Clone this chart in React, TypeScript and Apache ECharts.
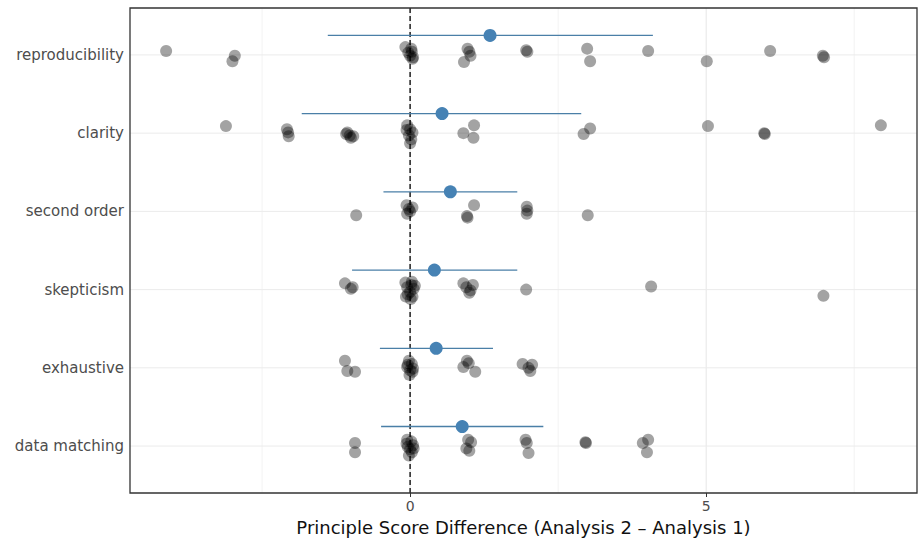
import React, { useEffect, useRef } from "react";
import * as echarts from "echarts";

// Categories, bottom (level 1) to top (level 6)
const categories = ["data matching", "exhaustive", "skepticism", "second order", "clarity", "reproducibility"];
const xTickValues = [0, 5];
const xMajorGrid = [0, 5];
const xMinorGrid = [-2.5, 2.5, 7.5];
const xName = "Principle Score Difference (Analysis 2 \u2013 Analysis 1)";

// Individual score differences (x) and their vertical jitter (in category units)
const dataMatchingX = [-0.93, -0.93, -0.05, 0.02, 0.05, -0.04, 0.0, 0.03, -0.02, 0.06, -0.06, 0.98, 1.03, 0.95, 1.0, 1.95, 1.97, 2.0, 2.96, 2.97, 3.93, 4.02, 4.0];
const dataMatchingJ = [0.04, -0.08, 0.08, 0.06, 0.01, -0.01, -0.04, -0.08, -0.12, -0.03, 0.03, 0.08, 0.05, -0.03, -0.06, 0.08, 0.04, -0.09, 0.05, 0.04, 0.04, 0.08, -0.08];

const exhaustiveX = [-1.1, -1.06, -0.93, -0.02, 0.03, -0.05, 0.0, 0.04, -0.01, 0.05, -0.04, 0.96, 0.99, 0.9, 1.1, 1.9, 2.06, 2.03, 2.0];
const exhaustiveJ = [0.09, -0.04, -0.05, 0.09, 0.05, 0.01, -0.03, -0.05, -0.09, -0.01, 0.04, 0.09, 0.06, 0.01, -0.05, 0.05, 0.04, -0.04, 0.0];

const skepticismX = [-1.1, -0.97, -1.0, -0.08, 0.03, -0.05, 0.06, 0.0, -0.04, 0.04, 0.01, 0.08, -0.07, 0.02, 0.9, 0.95, 1.02, 1.0, 1.06, 1.96, 4.07, 6.98];
const skepticismJ = [0.08, 0.03, 0.01, 0.09, 0.1, 0.03, 0.01, -0.03, -0.06, -0.09, -0.12, 0.05, -0.09, 0.06, 0.08, 0.03, -0.01, -0.04, 0.06, 0.0, 0.04, -0.08];

const secondOrderX = [-0.91, -0.06, -0.02, -0.05, 0.0, 0.04, 0.96, 0.97, 1.08, 1.97, 1.98, 1.97, 3.0];
const secondOrderJ = [-0.05, 0.08, 0.03, -0.03, 0.0, 0.05, -0.06, -0.08, 0.08, 0.06, 0.01, -0.03, -0.05];

const clarityX = [-3.11, -2.08, -2.06, -2.05, -1.06, -1.02, -0.96, -1.0, -1.08, -0.05, 0.0, 0.04, -0.02, 0.02, 0.0, -0.06, 0.9, 1.08, 1.07, 2.93, 3.04, 5.03, 5.98, 5.99, 7.95];
const clarityJ = [0.09, 0.05, 0.01, -0.04, 0.01, -0.03, -0.04, -0.06, -0.01, 0.1, 0.05, 0.01, -0.03, -0.08, -0.13, 0.04, 0.0, 0.1, -0.06, -0.01, 0.06, 0.09, 0.0, -0.01, 0.1];

const reproducibilityX = [-4.12, -2.96, -3.0, -0.08, 0.02, 0.03, 0.0, 0.04, -0.03, 0.05, 0.97, 1.0, 1.02, 0.91, 1.96, 1.98, 2.99, 3.04, 4.02, 5.01, 6.08, 6.97, 6.99];
const reproducibilityJ = [0.05, -0.01, -0.08, 0.1, 0.08, 0.04, -0.01, -0.05, 0.03, -0.03, 0.08, 0.04, -0.01, -0.09, 0.06, 0.04, 0.08, -0.08, 0.05, -0.08, 0.05, -0.01, -0.03];

// Means and intervals, bottom to top
const meanX = [0.88, 0.44, 0.41, 0.68, 0.54, 1.35];
const ciLow = [-0.49, -0.51, -0.98, -0.45, -1.83, -1.39];
const ciHigh = [2.25, 1.4, 1.81, 1.81, 2.89, 4.1];
const meanOffset = 0.25;

const X_MIN = -4.73;
const X_MAX = 8.56;
const Y_MIN = 0.4;
const Y_MAX = 6.6;

const FONT = "DejaVu Sans";

export default function App() {
  const ref = useRef<HTMLDivElement>(null);

  useEffect(() => {
    if (!ref.current) return;
    const chart = echarts.init(ref.current, undefined, { renderer: "svg" });

    const rowsX = [dataMatchingX, exhaustiveX, skepticismX, secondOrderX, clarityX, reproducibilityX];
    const rowsJ = [dataMatchingJ, exhaustiveJ, skepticismJ, secondOrderJ, clarityJ, reproducibilityJ];
    const points: number[][] = [];
    rowsX.forEach((xs, i) => {
      xs.forEach((x, k) => points.push([x, i + 1 + rowsJ[i][k]]));
    });

    const vGrid = [
      ...xMajorGrid.map((v) => [v, 0, 1]),
      ...xMinorGrid.map((v) => [v, 0, 0]),
    ];
    const hGrid = categories.map((_, i) => [0, i + 1]);
    const means = meanX.map((m, i) => [m, i + 1 + meanOffset, ciLow[i], ciHigh[i]]);

    const option: any = {
      animation: false,
      backgroundColor: "#ffffff",
      grid: {
        left: 130,
        right: 4,
        top: 8,
        bottom: 53,
        show: true,
        borderColor: "#333333",
        borderWidth: 1.3,
        backgroundColor: "transparent",
        z: 10,
      },
      xAxis: {
        type: "value",
        min: X_MIN,
        max: X_MAX,
        name: xName,
        nameLocation: "middle",
        nameGap: 25,
        nameTextStyle: { fontSize: 18, color: "#111111", fontFamily: FONT },
        axisLine: { show: false },
        axisTick: { show: true, customValues: xTickValues, length: 4, lineStyle: { color: "#333333" } },
        axisLabel: {
          customValues: xTickValues,
          fontSize: 14,
          color: "#4D4D4D",
          margin: 6,
          fontFamily: FONT,
        },
        splitLine: { show: false },
      },
      yAxis: {
        type: "value",
        min: Y_MIN,
        max: Y_MAX,
        axisLine: { show: false },
        axisTick: { show: true, customValues: [1, 2, 3, 4, 5, 6], length: 4, lineStyle: { color: "#333333" } },
        axisLabel: {
          customValues: [1, 2, 3, 4, 5, 6],
          formatter: (v: number) => categories[Math.round(v) - 1] ?? "",
          fontSize: 15,
          color: "#4D4D4D",
          margin: 6,
          fontFamily: FONT,
        },
        splitLine: { show: false },
      },
      series: [
        {
          type: "custom",
          z: 1,
          silent: true,
          data: vGrid,
          encode: { x: 0, y: 1 },
          renderItem: (params: any, api: any) => {
            const x = api.value(0);
            const major = api.value(2) === 1;
            const p1 = api.coord([x, Y_MIN]);
            const p2 = api.coord([x, Y_MAX]);
            return {
              type: "line",
              shape: { x1: p1[0], y1: p1[1], x2: p2[0], y2: p2[1] },
              style: { stroke: major ? "#E6E6E6" : "#EFEFEF", lineWidth: major ? 1 : 0.8 },
            };
          },
        },
        {
          type: "custom",
          z: 1,
          silent: true,
          data: hGrid,
          encode: { x: 0, y: 1 },
          renderItem: (params: any, api: any) => {
            const y = api.value(1);
            const p1 = api.coord([X_MIN, y]);
            const p2 = api.coord([X_MAX, y]);
            return {
              type: "line",
              shape: { x1: p1[0], y1: p1[1], x2: p2[0], y2: p2[1] },
              style: { stroke: "#EBEBEB", lineWidth: 1 },
            };
          },
        },
        {
          type: "scatter",
          z: 3,
          data: points,
          symbol: "circle",
          symbolSize: 12,
          itemStyle: { color: "rgba(0,0,0,0.45)" },
        },
        {
          type: "custom",
          z: 5,
          silent: true,
          data: [[0, 0]],
          encode: { x: 0, y: 1 },
          renderItem: (params: any, api: any) => {
            const x = api.value(0);
            const p1 = api.coord([x, Y_MIN]);
            const p2 = api.coord([x, Y_MAX]);
            return {
              type: "line",
              shape: { x1: p1[0], y1: p1[1], x2: p2[0], y2: p2[1] },
              style: { stroke: "#000000", lineWidth: 1.3, lineDash: [5, 3] },
            };
          },
        },
        {
          type: "custom",
          z: 6,
          data: means,
          encode: { x: 0, y: 1 },
          renderItem: (params: any, api: any) => {
            const m = api.coord([api.value(0), api.value(1)]);
            const lo = api.coord([api.value(2), api.value(1)]);
            const hi = api.coord([api.value(3), api.value(1)]);
            return {
              type: "group",
              children: [
                {
                  type: "line",
                  shape: { x1: lo[0], y1: lo[1], x2: hi[0], y2: hi[1] },
                  style: { stroke: "#4A7FA7", lineWidth: 1.3 },
                },
                {
                  type: "circle",
                  shape: { cx: m[0], cy: m[1], r: 6.5 },
                  style: { fill: "#4682B4" },
                },
              ],
            };
          },
        },
      ],
    };

    chart.setOption(option);
    return () => chart.dispose();
  }, []);

  return (
    <div
      ref={ref}
      style={{ position: "fixed", left: 0, top: 0, width: 921, height: 546, background: "#fff" }}
    />
  );
}
